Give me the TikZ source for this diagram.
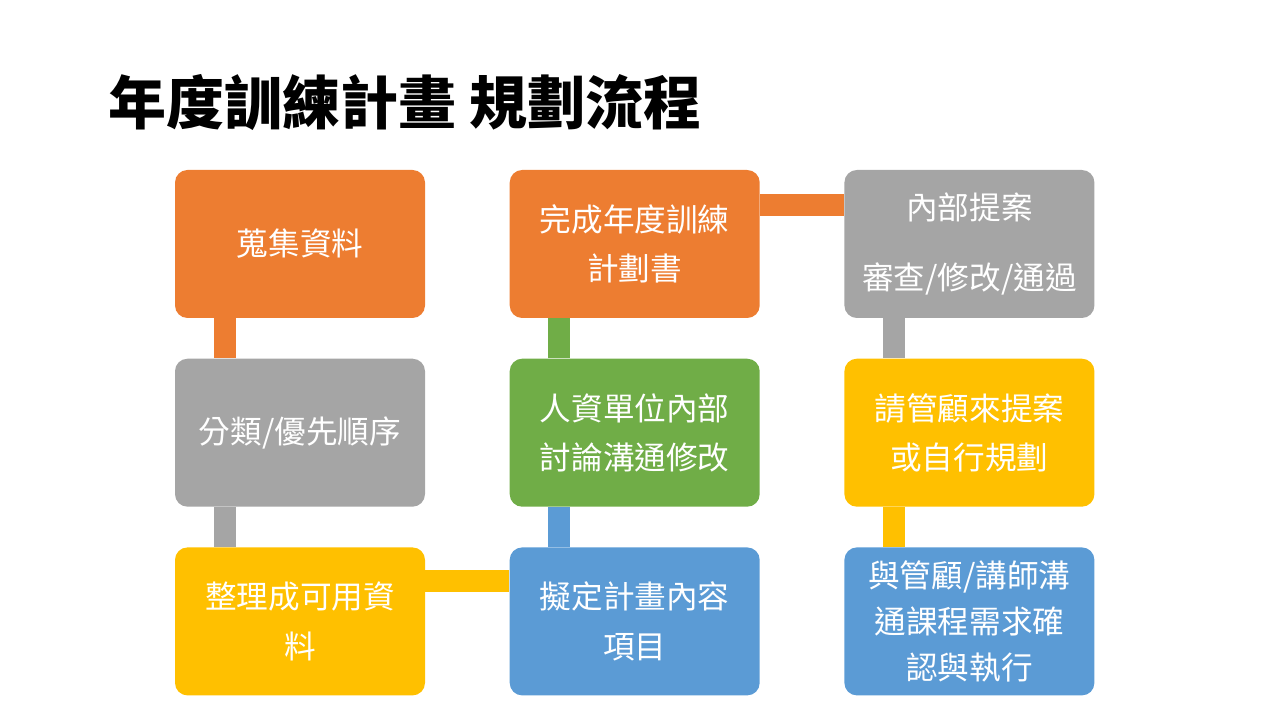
\documentclass[tikz,border=0pt]{standalone}
\usepackage{fontspec}
\setmainfont{Noto Sans CJK TC}
\usetikzlibrary{positioning}
\definecolor{cOrange}{HTML}{ED7D31}
\definecolor{cGray}{HTML}{A5A5A5}
\definecolor{cGreen}{HTML}{70AD47}
\definecolor{cYellow}{HTML}{FFC000}
\definecolor{cBlue}{HTML}{5B9BD5}
\begin{document}
\begin{tikzpicture}
          [font=\fontsize{18}{22}\selectfont,
          % STYLES
          % The stepbox style is used for each step of the flow
          stepbox/.style={rectangle,
                          rounded corners=0.25cm,
                          minimum width=5cm,
                          minimum height=2.96cm,
                          inner sep=2pt,
                          align=center,
                          text=white},
          % connector bars between steps
          bar/.style={line width=0.44cm}]
          \useasboundingbox (0,0) rectangle (25.6,14.4);

          % Title
          \node [anchor=west, font=\fontsize{33}{40}\selectfont\bfseries] (title) at (2.05,12.35) {年度訓練計畫 規劃流程};

          % Draw steps
          \node [stepbox, fill=cOrange] (s11) at (6.0,9.52) {蒐集資料};
          \node [stepbox, fill=cGray, below=0.8 of s11] (s21) {分類/優先順序};
          \node [stepbox, fill=cYellow, below=0.8 of s21] (s31) {整理成可用資\\[6pt]料};
          \node [stepbox, fill=cBlue, right=1.68 of s31] (s32) {擬定計畫內容\\[6pt]項目};
          \node [stepbox, fill=cGreen, above=0.8 of s32] (s22) {人資單位內部\\[6pt]討論溝通修改};
          \node [stepbox, fill=cOrange, above=0.8 of s22] (s12) {完成年度訓練\\[6pt]計劃書};
          \node [stepbox, fill=cGray, right=1.68 of s12] (s13) {內部提案\\[18pt]審查/修改/通過};
          \node [stepbox, fill=cYellow, below=0.8 of s13] (s23) {請管顧來提案\\[6pt]或自行規劃};
          \node [stepbox, fill=cBlue, below=0.8 of s23] (s33) {與管顧/講師溝\\[4pt]通課程需求確\\[4pt]認與執行};

          % Draw the bars between steps
          \draw [bar, cOrange] ([xshift=-1.5cm]s11.south) -- ([xshift=-1.5cm]s21.north);
          \draw [bar, cGray] ([xshift=-1.5cm]s21.south) -- ([xshift=-1.5cm]s31.north);
          \draw [bar, cYellow] ([yshift=0.8cm]s31.east) -- ([yshift=0.8cm]s32.west);
          \draw [bar, cBlue] ([xshift=-1.52cm]s32.north) -- ([xshift=-1.52cm]s22.south);
          \draw [bar, cGreen] ([xshift=-1.52cm]s22.north) -- ([xshift=-1.52cm]s12.south);
          \draw [bar, cOrange] ([yshift=0.78cm]s12.east) -- ([yshift=0.78cm]s13.west);
          \draw [bar, cGray] ([xshift=-1.5cm]s13.south) -- ([xshift=-1.5cm]s23.north);
          \draw [bar, cYellow] ([xshift=-1.5cm]s23.south) -- ([xshift=-1.5cm]s33.north);
\end{tikzpicture}
\end{document}
